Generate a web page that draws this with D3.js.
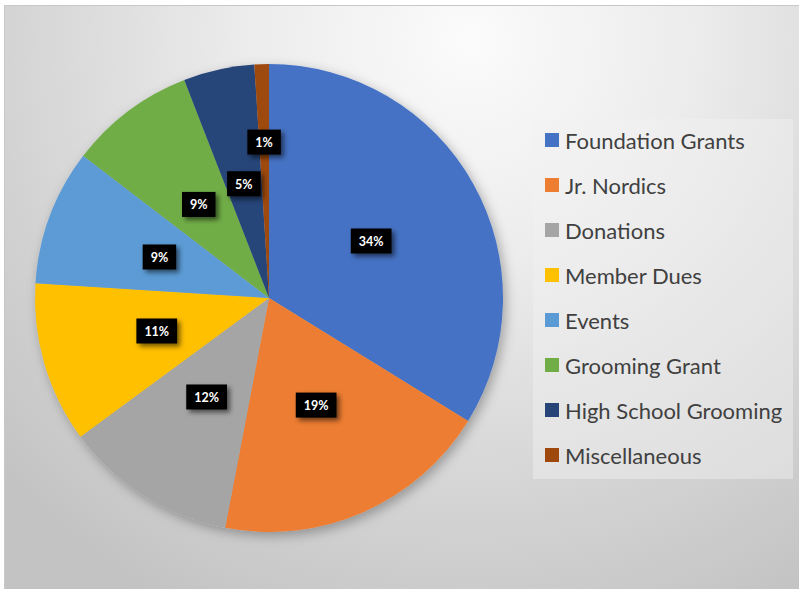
<!DOCTYPE html>
<html>
<head>
<meta charset="utf-8">
<script src="https://cdn.jsdelivr.net/npm/d3@7/dist/d3.min.js"></script>
<style>
  html, body { margin: 0; padding: 0; background: #ffffff; }
  svg { display: block; }
</style>
</head>
<body>
<script>
const categories = ["Foundation Grants", "Jr. Nordics", "Donations", "Member Dues", "Events", "Grooming Grant", "High School Grooming", "Miscellaneous"];
const values = [33.8, 19.2, 11.9, 11.1, 9.4, 8.7, 4.9, 1.0];
const colors = ["#4472C4", "#ED7D31", "#A5A5A5", "#FFC000", "#5B9BD5", "#70AD47", "#264478", "#9E480E"];

const W = 799, H = 589;
const svg = d3.select("body").append("svg").attr("width", W).attr("height", H);
const defs = svg.append("defs");

const bg = defs.append("radialGradient").attr("id", "bg")
  .attr("gradientUnits", "userSpaceOnUse")
  .attr("cx", 470).attr("cy", 40).attr("r", 640);
bg.append("stop").attr("offset", "0").attr("stop-color", "#fbfbfb");
bg.append("stop").attr("offset", "0.35").attr("stop-color", "#ececec");
bg.append("stop").attr("offset", "0.75").attr("stop-color", "#d2d2d2");
bg.append("stop").attr("offset", "1").attr("stop-color", "#c3c3c3");

const pieShadow = defs.append("filter").attr("id", "pieShadow")
  .attr("x", "-20%").attr("y", "-20%").attr("width", "140%").attr("height", "140%");
pieShadow.append("feDropShadow").attr("dx", 3).attr("dy", 4).attr("stdDeviation", 6)
  .attr("flood-color", "#000").attr("flood-opacity", 0.3);

const lblShadow = defs.append("filter").attr("id", "lblShadow")
  .attr("x", "-50%").attr("y", "-50%").attr("width", "200%").attr("height", "200%");
lblShadow.append("feDropShadow").attr("dx", 3).attr("dy", 3).attr("stdDeviation", 2.5)
  .attr("flood-color", "#000").attr("flood-opacity", 0.55);

// chart area
svg.append("rect").attr("x", 4.5).attr("y", 5.5).attr("width", W + 10).attr("height", H + 10)
  .attr("fill", "url(#bg)").attr("stroke", "#c8c8c8").attr("stroke-width", 1);

const cx = 269, cy = 298, R = 234;
const pie = d3.pie().value(d => d).sort(null);
const arcs = pie(values);
const arc = d3.arc().innerRadius(0).outerRadius(R);

const g = svg.append("g").attr("transform", `translate(${cx},${cy})`);
g.append("g").attr("filter", "url(#pieShadow)")
  .selectAll("path").data(arcs).join("path")
  .attr("d", arc)
  .attr("fill", (d, i) => colors[i]);

// labels (pushed outward when they would collide with an earlier label)
const fmt = d3.format(".0%");
const total = d3.sum(values);
const lg = g.append("g");
const placed = [];
const gapX = 4, gapY = 16;
arcs.forEach((d, i) => {
  const txt = fmt(values[i] / total);
  const grp = lg.append("g");
  const t = grp.append("text")
    .attr("text-anchor", "middle").attr("dominant-baseline", "central")
    .attr("font-family", "Lato, 'Open Sans', sans-serif").attr("font-weight", "bold")
    .attr("font-size", 12.5).attr("fill", "#ffffff").text(txt);
  const tw = t.node().getComputedTextLength();
  const bw = tw + 16, bh = 25;
  const mid = (d.startAngle + d.endAngle) / 2;
  let r = R * 0.5;
  let x, y;
  const overlaps = () => placed.some(p =>
    Math.abs(p.x - x) < (p.w + bw) / 2 + gapX && Math.abs(p.y - y) < (p.h + bh) / 2 + gapY);
  do {
    x = Math.sin(mid) * r; y = -Math.cos(mid) * r;
    r += 1;
  } while (overlaps() && r < R);
  placed.push({x, y, w: bw, h: bh});
  grp.insert("rect", "text")
    .attr("x", x - bw / 2).attr("y", y - bh / 2).attr("width", bw).attr("height", bh)
    .attr("fill", "#000").attr("filter", "url(#lblShadow)");
  t.attr("x", x).attr("y", y + 0.5);
});

// legend
const lx = 533, ly = 119, lw = 260, lh = 360;
svg.append("rect").attr("x", lx).attr("y", ly).attr("width", lw).attr("height", lh)
  .attr("fill", "#f2f2f2").attr("fill-opacity", 0.45);
const rowY = d3.scalePoint().domain(categories).range([140, 455]);
const leg = svg.append("g").selectAll("g").data(categories).join("g")
  .attr("transform", d => `translate(545,${rowY(d)})`);
leg.append("rect").attr("x", 0).attr("y", -7).attr("width", 14).attr("height", 14)
  .attr("fill", (d, i) => colors[i]);
leg.append("text").attr("x", 20).attr("y", 0).attr("dominant-baseline", "central")
  .attr("font-family", "Lato, 'Open Sans', sans-serif").attr("font-size", 22)
  .attr("fill", "#404040").text(d => d);
</script>
</body>
</html>
